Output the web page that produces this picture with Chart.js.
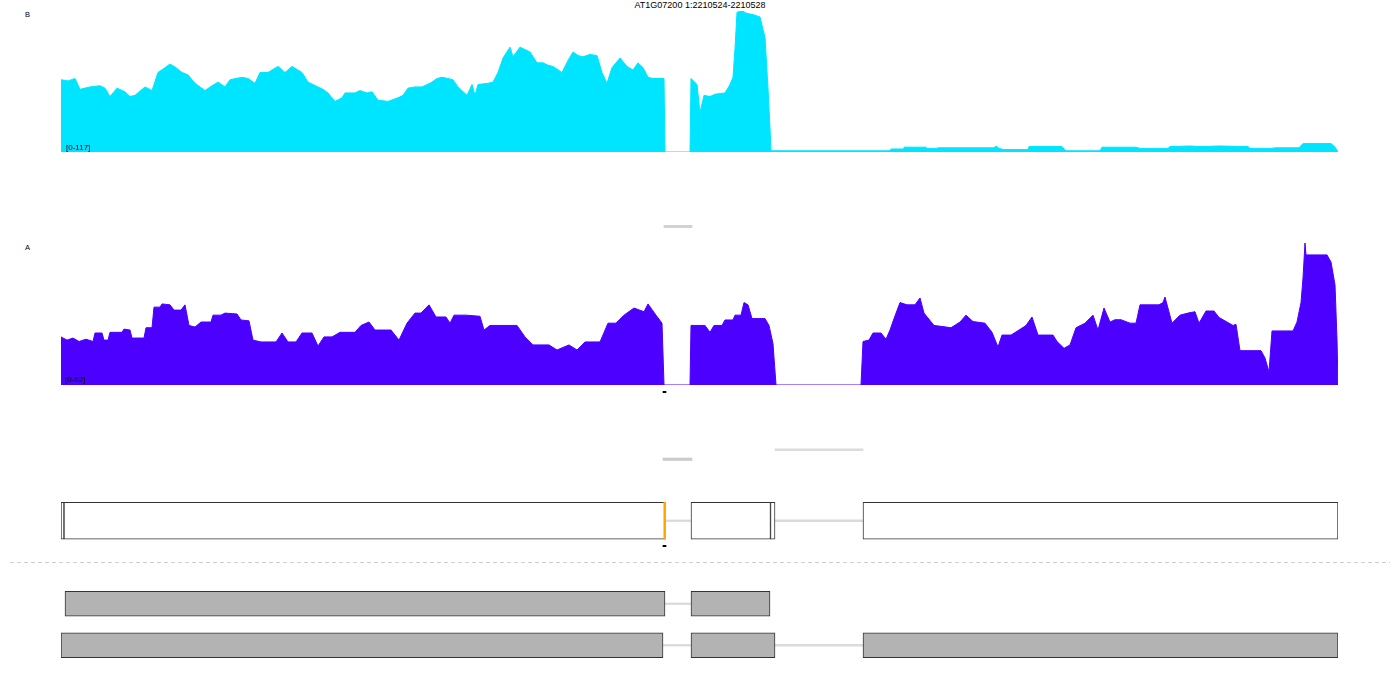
<!DOCTYPE html>
<html>
<head>
<meta charset="utf-8">
<script src="https://cdn.jsdelivr.net/npm/chart.js@4.4.1/dist/chart.umd.min.js"></script>
<style>
  html,body{margin:0;padding:0;background:#fff;}
  body{width:1400px;height:700px;position:relative;overflow:hidden;font-family:"Liberation Sans",Arial,sans-serif;}
  canvas{position:absolute;}
  .t{position:absolute;white-space:nowrap;color:#000;}
  .sep{position:absolute;left:10px;top:562px;width:1380px;height:1px;
       background:repeating-linear-gradient(to right,#cfcfcf 0 4px,transparent 4px 7px);}
</style>
</head>
<body>
<div class="t" style="left:0;width:1400px;text-align:center;top:0.5px;font-size:9px;line-height:9px;">AT1G07200 1:2210524-2210528</div>
<div class="t" style="left:25px;top:10.5px;font-size:7.5px;line-height:7.5px;">B</div>
<div class="t" style="left:25px;top:244.3px;font-size:7.5px;line-height:7.5px;">A</div>
<div class="sep"></div>
<script>
// ---------- data (positions are bp offsets within the displayed region) ----------
const regionLength = 1277;

const positionsB = [0,7,14,19,29,39,44,49,56,64,69,74,84,91,97,104,109,115,121,127,134,144,151,157,164,169,175,181,187,194,199,207,217,224,231,237,241,247,257,262,267,274,281,284,294,299,306,311,317,327,337,342,347,354,361,369,376,381,387,392,397,406,411,414,417,427,432,437,442,449,452,459,464,469,476,482,487,492,501,507,512,517,522,529,536,541,546,551,559,566,572,577,582,587,592,603,604,629,630,636,639,643,649,654,664,669,672,674,676,681,686,692,699,704,707,709,710,829,830,842,843,865,866,876,877,899,904,933,935,937,942,967,968,1001,1005,1039,1041,1075,1079,1107,1109,1129,1139,1159,1187,1189,1209,1215,1238,1242,1270,1274,1277];
const coverageB = [60,59,61,52,54,55,53,46,53,50,46,47,54,51,66,70,73,70,66,64,57,51,55,58,54,60,61,62,61,57,66,66,71,66,71,68,66,58,54,52,49,42,45,49,49,51,49,50,43,42,45,47,53,54,54,57,61,62,61,60,54,47,56,47,56,57,58,66,78,87,79,87,85,83,74,74,72,71,66,76,83,80,79,81,80,66,57,70,78,71,68,74,70,62,61,61,0,0,61,56,33,47,46,48,49,56,62,86,116,117,115,114,112,95,53,20,1,1,2.5,2.5,4,4,3,3,3.5,3.5,3.5,3.5,5,3.5,2,2,4.5,4.5,1,1,4,4,3,3,4.5,5,4.5,5,4.5,3,3,3.5,3.5,7,7,4,0];
const maxB = 117;

const positionsA = [0,6,12,18,25,32,34,41,43,47,49,61,63,69,71,83,85,91,93,99,101,109,113,120,124,128,134,140,150,152,160,164,176,180,188,192,200,215,221,227,235,241,251,257,263,271,279,294,300,308,314,330,338,346,354,360,368,375,385,389,393,405,419,423,429,456,464,472,488,496,508,516,524,539,547,555,563,573,583,587,595,601,603,629,630,644,649,653,661,664,672,674,680,683,687,691,704,708,712,715,800,802,808,812,820,825,829,833,839,846,854,859,863,873,882,890,899,905,912,924,931,937,941,950,958,965,971,977,992,996,1003,1009,1015,1024,1032,1037,1043,1049,1054,1060,1069,1075,1079,1086,1090,1098,1102,1104,1111,1119,1128,1134,1138,1145,1153,1158,1166,1172,1175,1179,1200,1204,1208,1211,1232,1236,1240,1242,1244,1245,1266,1270,1274,1276,1277];
const coverageA = [21,19.6,20.5,19,20,19,22.7,22.7,19.6,19.6,23,23,24.4,24,20.5,20.5,25,25,34,34,35.4,35,32.7,32.7,35,26,25.3,27.5,27.5,30.5,30.5,31.4,31,28.4,28,19.6,18.8,18.8,22.7,18.8,18.8,22.7,22.7,17,21,21,23,23,26,27.5,24,24,19.6,27,31.4,31.4,35,29.7,29.7,27,30.5,30.5,30,24,26,26,21,17.5,17.5,15.3,17.5,15.3,18.8,18.8,27,27,30.5,33.6,32,35.4,30.5,27,0,0,26,26,23,26,26,28.4,28.4,30.5,30.5,36,35,29,29,26,18,0,0,19,19.6,22.7,22.7,20,24,29,36,35,35,38,31.4,26,25.5,25,27.5,30.5,27.7,27,23,16.6,21.8,21.8,24,26,29.7,21.8,21.8,19,16,17.5,25,27,30.5,24,33.6,27.5,28.5,28.5,27,27,35,35,35,35,36,38.4,27,30.5,31.5,32,27,32.3,32.3,29.5,27.5,26,26.5,15,15,11.8,5.7,23.6,23.6,27.5,36,46.7,62,56.8,56.8,53.7,43.7,20,0];
const maxA = 62;

const junctionsB = [[603,631]];
const junctionsA1 = [[714,802]];
const junctionsA2 = [[602,631]];
const siteMarks = [[602,605]];

const modelRows = ['gene','sep','tx1','tx2'];
const geneParts = [[0,3],[3,604],[630,709.5],[709.5,714],[802,1277]];
const geneIntrons = [[604,630],[714,802]];
const highlight = [[602.8,604.6]];
const tx1Exons = [[4,604],[630,709]];
const tx1Introns = [[604,630]];
const tx2Exons = [[0,602],[630,714],[802,1277]];
const tx2Introns = [[602,630],[714,802]];

// ---------- helpers ----------
Chart.defaults.font.family = '"Liberation Sans", Arial, sans-serif';

function makeCanvas(left, top, w, h) {
  const c = document.createElement('canvas');
  c.width = w; c.height = h;
  c.style.left = left + 'px'; c.style.top = top + 'px';
  c.style.width = w + 'px'; c.style.height = h + 'px';
  document.body.appendChild(c);
  return c;
}

function baseOpts() {
  return {
    responsive: false, animation: false, devicePixelRatio: 1,
    layout: { padding: 0 },
    plugins: { legend: { display: false }, tooltip: { enabled: false }, title: { display: false } },
    events: []
  };
}

function coverageChart(rect, pos, vals, maxVal, color) {
  const c = makeCanvas(rect[0], rect[1], rect[2], rect[3]);
  const opts = baseOpts();
  opts.scales = {
    x: { type: 'linear', min: 0, max: regionLength, display: false },
    y: { type: 'linear', min: 0, max: maxVal, display: false }
  };
  new Chart(c, {
    type: 'line',
    data: { datasets: [{
      data: pos.map((p, i) => ({ x: p, y: vals[i] })),
      borderColor: color, backgroundColor: color, fill: 'origin',
      borderWidth: 1, pointRadius: 0, tension: 0
    }]},
    options: opts
  });
}

function spans(row, list) { return list.map(s => ({ x: s, y: row })); }

function barChart(rect, rows, datasets) {
  const c = makeCanvas(rect[0], rect[1], rect[2], rect[3]);
  const opts = baseOpts();
  opts.indexAxis = 'y';
  opts.scales = {
    x: { type: 'linear', min: 0, max: regionLength, display: false },
    y: { type: 'category', labels: rows, offset: true, display: false }
  };
  new Chart(c, {
    type: 'bar',
    data: { datasets: datasets.map(d => Object.assign({ grouped: false, borderSkipped: false, borderWidth: 0 }, d)) },
    options: opts
  });
}

// ---------- tracks ----------
coverageChart([61, 11, 1277, 141], positionsB, coverageB, maxB, '#00e5ff');
coverageChart([61, 243, 1277, 142], positionsA, coverageA, maxA, '#4c00ff');

barChart([61, 225, 1277, 3], ['j'], [
  { data: spans('j', junctionsB), backgroundColor: '#d2d2d2', barThickness: 2.5 }
]);
barChart([61, 445, 1277, 19], ['j1','j2'], [
  { data: spans('j1', junctionsA1), backgroundColor: '#dcdcdc', barThickness: 2 },
  { data: spans('j2', junctionsA2), backgroundColor: '#cccccc', barThickness: 2.5 }
]);
barChart([61, 391, 1277, 2], ['m'], [
  { data: spans('m', siteMarks), backgroundColor: '#000', barThickness: 2 }
]);
barChart([61, 545, 1277, 2], ['m'], [
  { data: spans('m', siteMarks), backgroundColor: '#000', barThickness: 2 }
]);

// lower "order" values are drawn on top
barChart([61, 500, 1277, 166], modelRows, [
  { order: 5, data: spans('gene', geneIntrons).concat(spans('tx1', tx1Introns), spans('tx2', tx2Introns)),
    backgroundColor: '#dadada', barThickness: 1.6 },
  { order: 4, data: spans('gene', geneParts), backgroundColor: '#ffffff', borderColor: '#333333', borderWidth: 1, barThickness: 37 },
  { order: 1, data: spans('gene', highlight), backgroundColor: '#ffa500', barThickness: 37 },
  { order: 3, data: spans('tx1', tx1Exons), backgroundColor: '#b3b3b3', borderColor: '#333333', borderWidth: 1, barThickness: 25 },
  { order: 3, data: spans('tx2', tx2Exons), backgroundColor: '#b3b3b3', borderColor: '#333333', borderWidth: 1, barThickness: 25 }
]);
</script>
<div class="t" style="left:66px;top:143.5px;font-size:8px;line-height:8px;">[0-117]</div>
<div class="t" style="left:65px;top:376px;font-size:8px;line-height:8px;">[0-62]</div>
</body>
</html>
